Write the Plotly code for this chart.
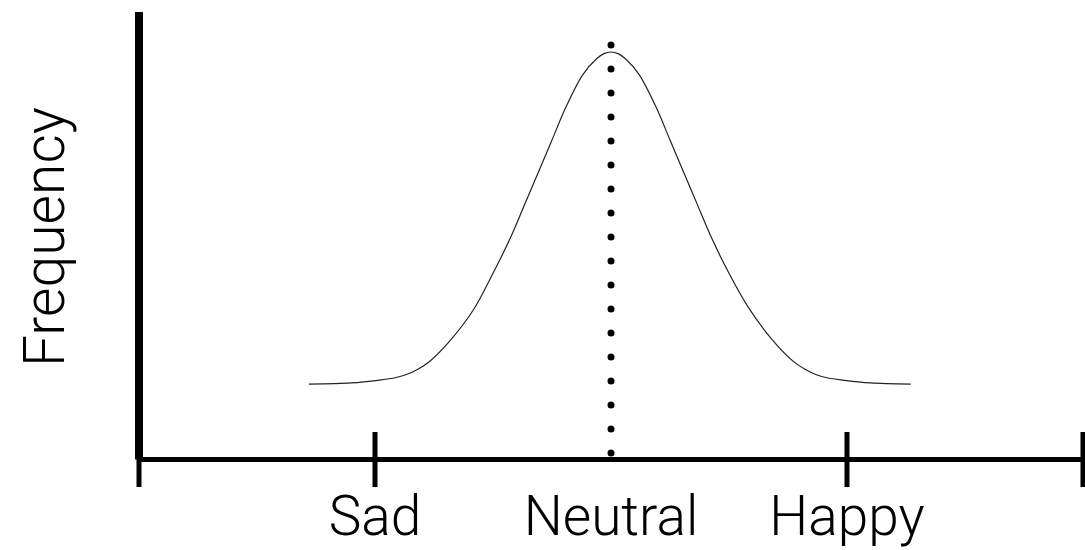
import plotly.graph_objects as go

# ---- data ----
mood_x = [0.72, 0.90, 1.02, 1.08, 1.13, 1.18, 1.23, 1.32, 1.42, 1.50, 1.57, 1.63, 1.69, 1.75, 1.81, 1.88, 1.94, 1.97, 2.00,
          2.03, 2.06, 2.12, 2.19, 2.25, 2.31, 2.37, 2.43, 2.50, 2.58, 2.68, 2.77, 2.82, 2.87, 2.92, 2.98, 3.10, 3.27]
frequency = [0.185, 0.188, 0.195, 0.200, 0.208, 0.221, 0.240, 0.293, 0.370, 0.457, 0.539, 0.620, 0.702, 0.784, 0.866, 0.944, 0.984, 0.996, 1.000,
             0.996, 0.984, 0.944, 0.866, 0.784, 0.702, 0.620, 0.539, 0.457, 0.375, 0.296, 0.242, 0.222, 0.208, 0.200, 0.195, 0.188, 0.185]
mean_x = 2.0
tick_positions = [0, 1, 3, 4]
label_positions = [1, 2, 3]
label_text = ["Sad", "Neutral", "Happy"]
y_axis_label = "Frequency"

FONT = "Roboto"

fig = go.Figure()

# bell curve
fig.add_trace(go.Scatter(x=mood_x, y=frequency, mode="lines",
                         line=dict(color="#222222", width=1.2, shape="spline", smoothing=0.9),
                         hoverinfo="skip", showlegend=False))

# dotted mean line (dots every fixed step from axis up to just above the peak)
n_dots = 18
dot_step = 24 / 407.5
dot_y = [0.016 + i * dot_step for i in range(n_dots)]
fig.add_trace(go.Scatter(x=[mean_x] * n_dots, y=dot_y, mode="markers",
                         marker=dict(color="black", size=7, line=dict(width=0)),
                         hoverinfo="skip", showlegend=False))

shapes = []
# y axis line
shapes.append(dict(type="line", xref="x", yref="y", x0=0, x1=0, y0=0, y1=1.098,
                   line=dict(color="black", width=8)))
# x axis line
shapes.append(dict(type="line", xref="x", yref="y", x0=0, x1=4.1, y0=0, y1=0,
                   line=dict(color="black", width=5)))
# crossing ticks
for t in tick_positions:
    shapes.append(dict(type="line", xref="x", yref="y", x0=t, x1=t, y0=-0.0675, y1=0.0675,
                       line=dict(color="black", width=5)))

fig.update_layout(
    width=1085, height=550,
    margin=dict(l=120, r=0, t=0, b=60, autoexpand=False),
    paper_bgcolor="white", plot_bgcolor="white",
    shapes=shapes,
    xaxis=dict(range=[-0.0805, 4.0085], showgrid=False, zeroline=False, showline=False,
               automargin=False,
               tickmode="array", tickvals=label_positions, ticktext=label_text, ticks="",
               ticklabelstandoff=-11,
               tickfont=dict(family=FONT, size=55, color="black", weight=300)),
    yaxis=dict(range=[-0.0748, 1.1276], showgrid=False, zeroline=False, showline=False,
               automargin=False, showticklabels=False, ticks=""),
    annotations=[dict(text=y_axis_label, xref="paper", yref="y", x=0, y=0.546,
                      xanchor="center", yanchor="middle", xshift=-76, textangle=-90,
                      showarrow=False,
                      font=dict(family=FONT, size=57, color="black", weight=300))],
)

fig.write_html("out.html", config={"displayModeBar": False},
               post_script="document.body.style.margin='0';document.body.style.overflow='hidden';")
